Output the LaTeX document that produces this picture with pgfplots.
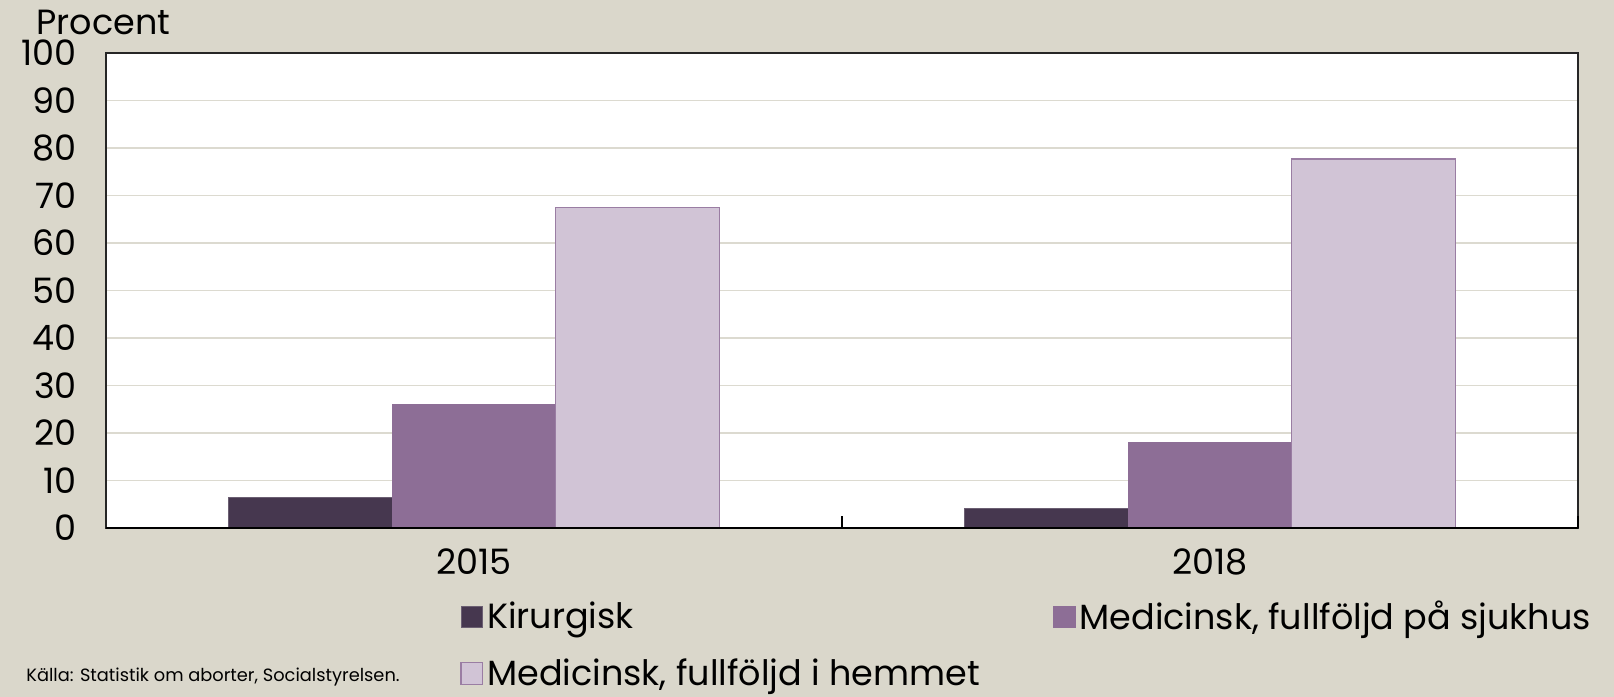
\documentclass[border=0pt]{standalone}
\usepackage{pgfplots}
\pgfplotsset{compat=1.18}
\usepackage{fontspec}
\setmainfont{Poppins}
\definecolor{bg}{HTML}{DAD7CB}
\definecolor{gridc}{HTML}{DCDAD0}
\definecolor{kir}{HTML}{46374F}
\definecolor{sjuk}{HTML}{8D6E96}
\definecolor{hem}{HTML}{D1C4D6}
\definecolor{hemb}{HTML}{9A7DA3}
\begin{document}
\begin{tikzpicture}
\fill[bg] (0pt,0pt) rectangle (807pt,348.5pt);
\begin{axis}[
  at={(53pt,84.5pt)}, anchor=south west,
  scale only axis, width=736pt, height=237.5pt,
  xmin=-0.5, xmax=1.5, ymin=0, ymax=100,
  ytick={0,10,...,100},
  xtick={0,1}, xticklabels={2015,2018},
  xtick pos=bottom,
  major tick length=0pt,
  extra x ticks={0.5,1.5}, extra x tick labels={},
  extra x tick style={major tick length=6pt, tick align=inside, xtick pos=bottom, tick style={draw=black, line width=0.6pt}},
  ytick style={draw=none},
  ymajorgrids, grid style={draw=gridc, line width=0.9pt},
  axis background/.style={fill=white},
  axis line style={draw=black!85, line width=0.7pt},
  /pgf/number format/assume math mode=true,
  ticklabel style={font=\fontsize{17.5}{20}\selectfont},
  yticklabel style={xshift=-11pt},
  xticklabel style={yshift=-7pt},
  ybar=0pt, bar width=0.2222,
  legend columns=2,
  legend cell align=left,
  legend style={draw=none, fill=none, at={(0.2364,-0.136)}, anchor=north west,
    font=\fontsize{17.5}{20}\selectfont, row sep=9pt, column sep=0pt,
    /tikz/every odd column/.append style={column sep=0pt}},
  legend image code/.code={\draw[#1] (0pt,-5.4pt) rectangle (10.8pt,5.4pt);},
]
\addplot[fill=kir, draw=kir!80!white, line width=0.4pt] coordinates {(0,6.5) (1,4.2)};
\addplot[fill=sjuk, draw=sjuk, line width=0.4pt] coordinates {(0,26.0) (1,18.1)};
\addplot[fill=hem, draw=hemb, line width=0.6pt] coordinates {(0,67.5) (1,77.7)};
\legend{\makebox[281pt][l]{Kirurgisk}, {Medicinsk, fullföljd på sjukhus}, \makebox[281pt][l]{Medicinsk, fullföljd i hemmet}}
\end{axis}
\draw[black, line width=1pt] (53pt,84.5pt) -- (789pt,84.5pt);
\node[anchor=base west, inner sep=0pt, font=\fontsize{17.5}{20}\selectfont] at (18pt,331pt) {Procent};
\node[anchor=base west, inner sep=0pt, font=\fontsize{8.9}{10}\selectfont] at (13pt,8pt) {Källa: Statistik om aborter, Socialstyrelsen.};
\pgfresetboundingbox
\path[use as bounding box] (0pt,0pt) rectangle (807pt,348.5pt);
\end{tikzpicture}
\end{document}
